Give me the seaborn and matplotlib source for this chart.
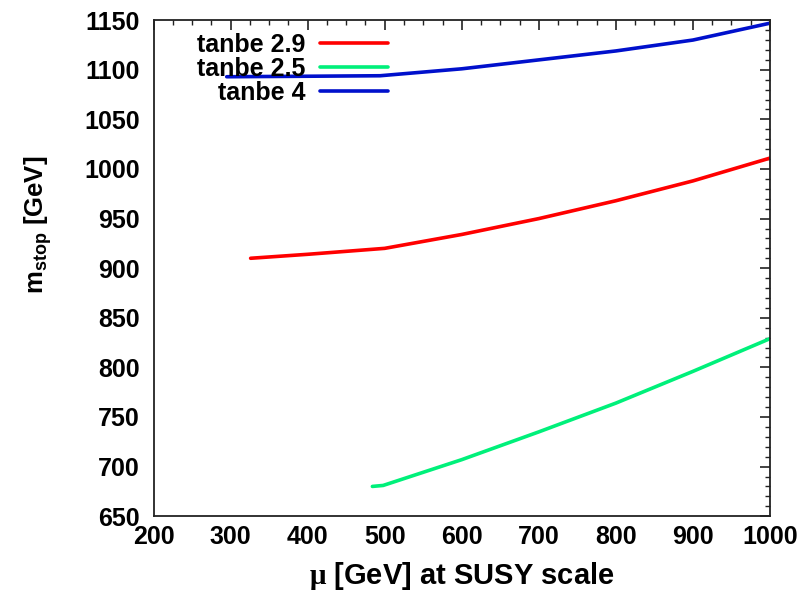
import numpy as np
import pandas as pd
import seaborn as sns
import matplotlib
matplotlib.use("Agg")
import matplotlib.pyplot as plt
from matplotlib.ticker import MultipleLocator

# mu [GeV] at SUSY scale and stop mass [GeV] for each tan(beta)
mu_29 = [326, 400, 500, 600, 700, 800, 900, 1000]
m_29 = [910, 914, 920, 934, 950, 968, 988, 1011]

mu_25 = [484, 498, 600, 700, 800, 900, 1000]
m_25 = [680, 681, 707, 735, 764, 796, 829]

mu_4 = [295, 400, 494, 600, 700, 800, 900, 1000]
m_4 = [1093, 1093.5, 1094, 1101, 1110, 1119, 1130, 1147]

labels = ["tanbe 2.9", "tanbe 2.5", "tanbe 4"]
colors = ["#ff0000", "#00f07a", "#0010cc"]

x_ticks = [200, 300, 400, 500, 600, 700, 800, 900, 1000]
y_ticks = [650, 700, 750, 800, 850, 900, 950, 1000, 1050, 1100, 1150]

frames = []
for lab, mu, m in zip(labels, [mu_29, mu_25, mu_4], [m_29, m_25, m_4]):
    frames.append(pd.DataFrame({"mu": mu, "mstop": m, "series": lab}))
df = pd.concat(frames, ignore_index=True)

sns.set_theme(style="white")
plt.rcParams["font.family"] = ["Liberation Sans", "DejaVu Sans"]
plt.rcParams["font.weight"] = "bold"
plt.rcParams["text.color"] = "black"
plt.rcParams["axes.labelcolor"] = "black"
plt.rcParams["mathtext.fontset"] = "custom"
plt.rcParams["mathtext.rm"] = "Liberation Serif"
plt.rcParams["mathtext.bf"] = "Liberation Sans:bold"
plt.rcParams["mathtext.it"] = "Liberation Sans:italic"

fig, ax = plt.subplots(figsize=(8.08, 5.94), dpi=100)
fig.subplots_adjust(left=0.19, right=0.953, top=0.966, bottom=0.131)

sns.lineplot(data=df, x="mu", y="mstop", hue="series", hue_order=labels,
             palette=colors, sort=False, estimator=None, linewidth=2.6,
             ax=ax)

ax.set_xlim(200, 1000)
ax.set_ylim(650, 1150)
ax.set_xticks(x_ticks)
ax.set_yticks(y_ticks)
ax.xaxis.set_minor_locator(MultipleLocator(25))
ax.yaxis.set_minor_locator(MultipleLocator(10))
ax.tick_params(which="both", direction="in", top=True, right=True,
               colors="#222222", labelcolor="black")
ax.tick_params(which="major", length=7, width=1.2, labelsize=18)
ax.tick_params(axis="x", which="major", pad=6)
ax.tick_params(axis="y", which="major", pad=10)
ax.tick_params(which="minor", length=3.5, width=1.0)
for lbl in ax.get_xticklabels() + ax.get_yticklabels():
    lbl.set_fontweight("bold")
for sp in ax.spines.values():
    sp.set_color("#222222")
    sp.set_linewidth(1.3)

ax.set_xlabel(r"$\mathrm{\mu}$ [GeV] at SUSY scale", fontsize=21,
              fontweight="bold", labelpad=8)
ax.set_ylabel(r"$\mathbf{m_{stop}}$ [GeV]", fontsize=18.5, fontweight="bold")
ax.yaxis.set_label_coords(-0.162, 0.587)

leg = ax.legend(loc="upper right", bbox_to_anchor=(0.38, 0.975),
                borderaxespad=0, borderpad=0, frameon=False,
                markerfirst=False, handlelength=2.7, handletextpad=0.6,
                labelspacing=0.0, prop={"size": 18, "weight": "bold"})
for h in leg.get_lines():
    h.set_linewidth(2.6)

fig.savefig("out.png", dpi=100)
